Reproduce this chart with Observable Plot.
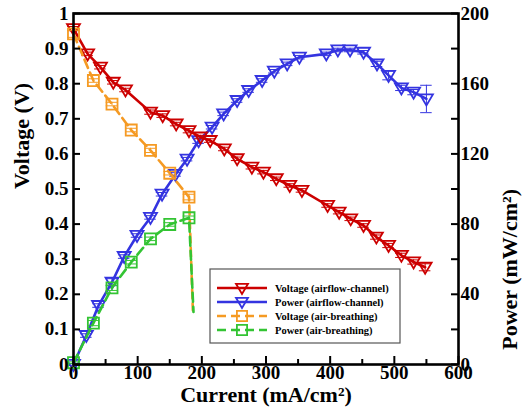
<!DOCTYPE html>
<html><head><meta charset="utf-8">
<script src="https://cdn.jsdelivr.net/npm/d3@7"></script>
<script src="https://cdn.jsdelivr.net/npm/@observablehq/plot@0.6"></script>
<style>
body{margin:0;background:#fff}
#chart svg, #chart svg text { font-family: "Liberation Serif", "DejaVu Serif", serif !important; font-weight: bold; }
</style>
</head><body><div id="chart"></div>
<script>
// ---- data ----
const seriesNames = ["Voltage (airflow-channel)", "Power (airflow-channel)", "Voltage (air-breathing)", "Power (air-breathing)"];
const currentVoltAirflow = [0,22,42,62,81,120,139,160,180,198,213,235,255,278,296,316,337,356,396,414,432,452,472,491,511,530,548];
const voltageAirflow = [0.957,0.885,0.847,0.804,0.782,0.719,0.709,0.685,0.666,0.648,0.638,0.614,0.586,0.562,0.548,0.529,0.510,0.496,0.453,0.434,0.415,0.396,0.363,0.339,0.311,0.292,0.277];
const voltageAirflowErr = [0.006,0.005,0.005,0.005,0.005,0.006,0.005,0.005,0.006,0.005,0.005,0.005,0.005,0.005,0.005,0.005,0.005,0.005,0.005,0.005,0.005,0.005,0.006,0.006,0.006,0.006,0.01];
const currentPowAirflow = [0,20,39,60,79,99,120,138,159,177,195,216,234,255,273,294,313,333,352,394,412,431,452,473,491,511,530,550];
const powerAirflow = [0,16.5,33.6,46.9,61.5,73.5,83.8,97,108.3,117,127.5,135.2,142.8,150.4,156.1,161.8,167.1,171.3,175.1,177,179.2,179.2,177.9,171.3,164.7,157.6,155.2,151.3];
const powerAirflowErr = [0.5,1,1,2,1,1,1,1,1,1,1.5,1,1,1,1,1,1,1,1,1,1,1,1,1.5,2.5,1.5,1.5,7.8];
const currentBreathing = [0,31,60,90,120,150,180,186];
const voltageBreathing = [0.942,0.809,0.742,0.668,0.610,0.545,0.477,0.155];
const voltageBreathingErr = [0.01,0.005,0.005,0.005,0.006,0.005,0.008,0];
const currentPowBreathing = [0,31,60,90,120,150,180,187];
const powerBreathing = [1,23.6,43.7,58.3,71.6,79.8,83.6,30];
const powerBreathingErr = [0.5,1.5,1.5,1,1,1,1,0];
const voltTicks = [0,0.1,0.2,0.3,0.4,0.5,0.6,0.7,0.8,0.9,1];
const powerTicks = [0,40,80,120,160,200];
const powerMinorTicks = [0,20,40,60,80,100,120,140,160,180,200];
const currentTicks = [0,100,200,300,400,500,600];
const currentMinorTicks = [50,150,250,350,450,550];
const powerMax = 200;

const colors = ["#cc0000", "#3434e0", "#f59a23", "#33c433"];
const FONT = "Liberation Serif, DejaVu Serif, serif";

// ---- build tables ----
const mk = (xs, ys, es, scale=1) => xs.map((x,i)=>({x, y: ys[i]/scale, e: es[i]/scale}));
const red = mk(currentVoltAirflow, voltageAirflow, voltageAirflowErr);
const blue = mk(currentPowAirflow, powerAirflow, powerAirflowErr, powerMax);
const orange = mk(currentBreathing, voltageBreathing, voltageBreathingErr);
const green = mk(currentPowBreathing, powerBreathing, powerBreathingErr, powerMax);

const triDown = {draw(ctx, size){ const r = Math.sqrt(size/Math.PI); ctx.moveTo(-r,-0.7*r); ctx.lineTo(r,-0.7*r); ctx.lineTo(0,r); ctx.closePath(); }};
const square = {draw(ctx, size){ const r = Math.sqrt(size/Math.PI)*0.85; ctx.rect(-r,-r,2*r,2*r); }};

const W = 527, H = 413, mL = 73, mR = 69, mT = 13, mB = 49;
const pw = W-mL-mR, ph = H-mT-mB;
const capHalf = 9;

function seriesMarks(data, color, symbol, dashed, withMarkerAll) {
  const pts = withMarkerAll ? data : data.slice(0,-1);
  const eb = pts.filter(d=>d.e>0);
  return [
    Plot.line(data, {x:"x", y:"y", stroke: color, strokeWidth: 2.6, strokeDasharray: dashed ? "9,5" : null}),
    Plot.ruleX(eb, {x:"x", y1: d=>d.y-d.e, y2: d=>d.y+d.e, stroke: color, strokeWidth: 1}),
    Plot.ruleY(eb, {y: d=>d.y+d.e, x1: d=>d.x-capHalf, x2: d=>d.x+capHalf, stroke: color, strokeWidth: 1}),
    Plot.ruleY(eb, {y: d=>d.y-d.e, x1: d=>d.x-capHalf, x2: d=>d.x+capHalf, stroke: color, strokeWidth: 1}),
    Plot.dot(pts, {x:"x", y:"y", symbol, r: 6.5, stroke: color, strokeWidth: 1.8, fill: "none"})
  ];
}

const chart = Plot.plot({
  width: W, height: H,
  marginLeft: mL, marginRight: mR, marginTop: mT, marginBottom: mB,
  style: {fontFamily: FONT, fontWeight: "bold", fontSize: "19px", background: "#fff", color: "#000"},
  x: {domain: [0,600]},
  y: {domain: [0,1]},
  marks: [
    ...seriesMarks(blue, colors[1], triDown, false, true),
    ...seriesMarks(red, colors[0], triDown, false, true),
    ...seriesMarks(orange, colors[2], square, true, false),
    ...seriesMarks(green, colors[3], square, true, false),
    Plot.tickY(voltTicks, {y: d=>d, insetRight: pw-7, stroke:"#000", strokeWidth: 2}),
    Plot.tickY(powerMinorTicks, {y: d=>d/powerMax, insetLeft: pw-7, stroke:"#000", strokeWidth: 2}),
    Plot.tickX(currentTicks, {x: d=>d, insetTop: ph-8, stroke:"#000", strokeWidth: 2}),
    Plot.tickX(currentMinorTicks, {x: d=>d, insetTop: ph-5, stroke:"#000", strokeWidth: 2}),
    Plot.frame({stroke: "#000", strokeWidth: 2.6}),
    Plot.axisY({anchor: "left", ticks: voltTicks, tickSize: 0, tickPadding: 5, tickFormat: d3.format("~g"), label: null, fontSize: 19, fontFamily: FONT, fontWeight: "bold"}),
    Plot.axisY({anchor: "right", ticks: powerTicks.map(p=>p/powerMax), tickSize: 0, tickPadding: 2, tickFormat: d=>String(Math.round(d*powerMax)), label: null, fontSize: 19, fontFamily: FONT, fontWeight: "bold"}),
    Plot.axisX({anchor: "bottom", ticks: currentTicks, tickSize: 0, tickPadding: 1, tickFormat: d=>String(d), label: null, fontSize: 19, fontFamily: FONT, fontWeight: "bold"}),
    Plot.text(["Voltage (V)"], {text: d=>d, frameAnchor: "left", dx: -52, rotate: -90, fontSize: 22, fontWeight: "bold", fontFamily: FONT}),
    Plot.text(["Power (mW/cm\u00B2)"], {text: d=>d, frameAnchor: "right", dx: 51, rotate: -90, fontSize: 22, fontWeight: "bold", fontFamily: FONT}),
    Plot.text(["Current (mA/cm\u00B2)"], {text: d=>d, frameAnchor: "bottom", dy: 37, fontSize: 22, fontWeight: "bold", fontFamily: FONT})
  ]
});
document.getElementById("chart").appendChild(chart);

// ---- legend ----
const svg = d3.select(chart);
const lg = svg.append("g").attr("text-anchor", "start");
lg.append("rect").attr("x", 210).attr("y", 269).attr("width", 190).attr("height", 74)
  .attr("fill", "#fff").attr("stroke", "#555").attr("stroke-width", 1.2);
const rowY = [288, 302, 316, 330];
const syms = [triDown, triDown, square, square];
seriesNames.forEach((name, i) => {
  const y = rowY[i];
  lg.append("line").attr("x1", 217).attr("x2", 267).attr("y1", y).attr("y2", y)
    .attr("stroke", colors[i]).attr("stroke-width", 2.6)
    .attr("stroke-dasharray", i >= 2 ? "9,5" : null);
  lg.append("path").attr("transform", `translate(242,${y})`)
    .attr("d", d3.symbol(syms[i], Math.PI*36)())
    .attr("fill", "none").attr("stroke", colors[i]).attr("stroke-width", 1.8);
  lg.append("text").attr("x", 275).attr("y", y).attr("dy", "0.35em").attr("text-anchor", "start")
    .attr("font-size", 10.5).attr("font-weight", "bold").attr("font-family", FONT).attr("fill", "#000").text(name);
});
</script>
</body></html>
